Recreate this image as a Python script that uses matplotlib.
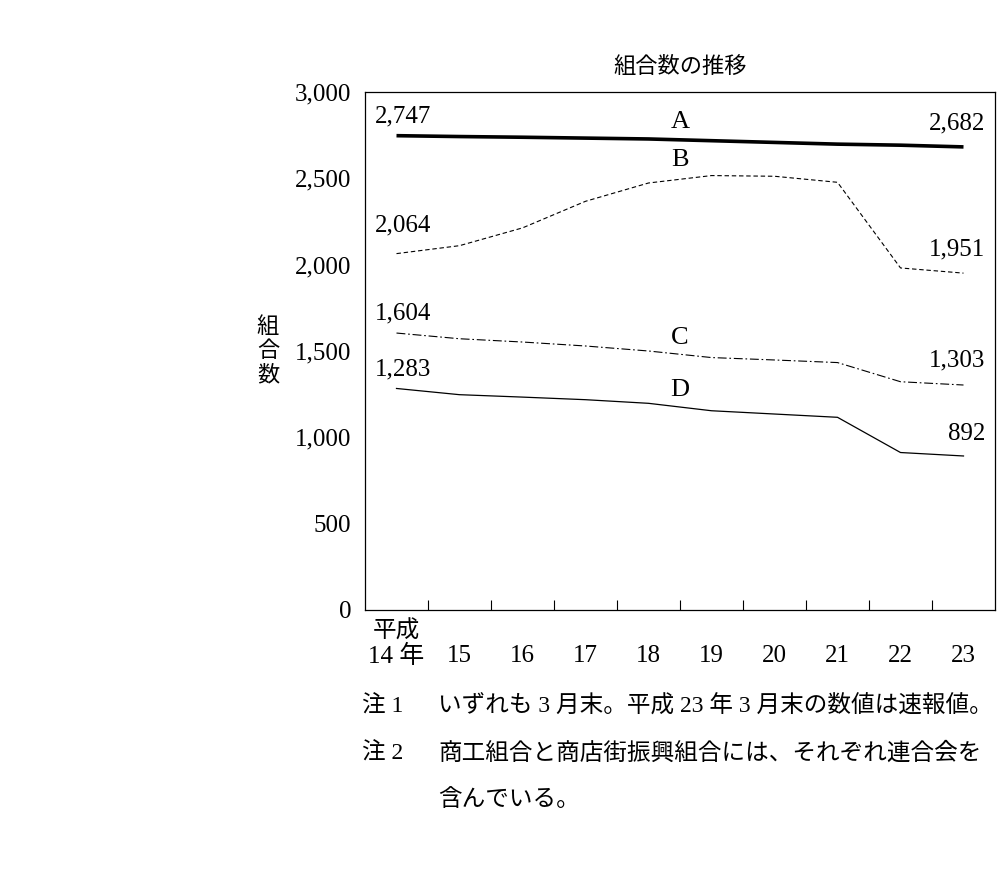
import numpy as np
import matplotlib
matplotlib.use("Agg")
import matplotlib.pyplot as plt
from matplotlib.transforms import blended_transform_factory

plt.rcParams['font.family'] = ['Liberation Serif', 'Noto Sans CJK JP', 'DejaVu Sans']

years = ["14 年", "15", "16", "17", "18", "19", "20", "21", "22", "23"]
line_a = [2747, 2742, 2738, 2733, 2728, 2718, 2708, 2698, 2692, 2682]
line_b = [2064, 2110, 2213, 2367, 2473, 2516, 2512, 2477, 1981, 1951]
line_c = [1604, 1571, 1552, 1529, 1500, 1462, 1448, 1433, 1322, 1303]
line_d = [1283, 1247, 1233, 1218, 1197, 1154, 1135, 1116, 912, 892]
yticks = [0, 500, 1000, 1500, 2000, 2500, 3000]

fig = plt.figure(figsize=(10, 8.8), dpi=100)
ax = fig.add_axes([0.365, 270 / 880, 0.63, 518 / 880])

x = np.arange(len(years))
ax.plot(x, line_a, color="black", lw=2.6, solid_capstyle="butt")
ax.plot(x, line_b, color="black", lw=0.8, linestyle=(0, (4, 2.5)))
ax.plot(x, line_c, color="black", lw=0.8, linestyle=(0, (8, 2.5, 1.5, 2.5)))
ax.plot(x, line_d, color="black", lw=0.9)

ax.set_xlim(-0.5, 9.5)
ax.set_ylim(0, 3000)
ax.set_yticks(yticks)
ax.set_yticklabels([f"{v:,}" for v in yticks], fontsize=18)
ax.tick_params(axis="y", length=0, pad=10)
ax.set_xticks(np.arange(0.5, 9, 1))
ax.set_xticklabels([])
ax.tick_params(axis="x", which="major", direction="in", length=7, width=0.8)
ax.set_xticks(x, minor=True)
ax.set_xticklabels(years, minor=True, fontsize=18)
ax.tick_params(axis="x", which="minor", length=0, pad=25)
for s in ax.spines.values():
    s.set_linewidth(0.9)

tr = blended_transform_factory(ax.transData, ax.transAxes)
ax.text(0, -22 / 518, "平成", transform=tr, ha="center", va="center", fontsize=17)

# series letters
ax.text(4.5, 2828, "A", ha="center", va="center", fontsize=19)
ax.text(4.5, 2608, "B", ha="center", va="center", fontsize=19)
ax.text(4.5, 1578, "C", ha="center", va="center", fontsize=19)
ax.text(4.5, 1277, "D", ha="center", va="center", fontsize=19)

# end values
ax.text(0.11, 2857, f"{line_a[0]:,}", ha="center", va="center", fontsize=18)
ax.text(0.11, 2226, f"{line_b[0]:,}", ha="center", va="center", fontsize=18)
ax.text(0.11, 1717, f"{line_c[0]:,}", ha="center", va="center", fontsize=18)
ax.text(0.11, 1392, f"{line_d[0]:,}", ha="center", va="center", fontsize=18)
ax.text(8.9, 2819, f"{line_a[-1]:,}", ha="center", va="center", fontsize=18)
ax.text(8.9, 2087, f"{line_b[-1]:,}", ha="center", va="center", fontsize=18)
ax.text(8.9, 1445, f"{line_c[-1]:,}", ha="center", va="center", fontsize=18)
ax.text(9.05, 1022, f"{line_d[-1]:,}", ha="center", va="center", fontsize=18)

fig.text(0.68, 1 - 67 / 880, "組合数の推移", ha="center", va="center", fontsize=16)
for i, ch in enumerate("組合数"):
    fig.text(0.268, 1 - (328 + 24 * i) / 880, ch, ha="center", va="center", fontsize=16)

fig.text(0.362, 1 - 707 / 880, "注 1", ha="left", va="center", fontsize=17)
fig.text(0.438, 1 - 707 / 880, "いずれも 3 月末。平成 23 年 3 月末の数値は速報値。", ha="left", va="center", fontsize=17)
fig.text(0.362, 1 - 754 / 880, "注 2", ha="left", va="center", fontsize=17)
fig.text(0.438, 1 - 754 / 880, "商工組合と商店街振興組合には、それぞれ連合会を", ha="left", va="center", fontsize=17)
fig.text(0.438, 1 - 800 / 880, "含んでいる。", ha="left", va="center", fontsize=17)

fig.savefig("out.png", dpi=100)
